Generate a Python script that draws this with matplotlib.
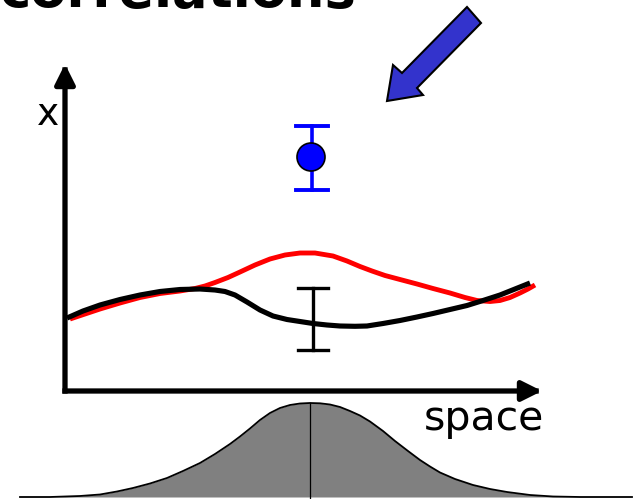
import matplotlib
matplotlib.use("Agg")
import matplotlib.pyplot as plt
from matplotlib.patches import Polygon, Circle

# Sketch coordinates: horizontal "space" position and vertical position (downwards)
red_x = [70, 85, 100, 120, 140, 160, 180, 195, 205, 215, 228, 240, 255, 270, 285, 300, 315,
         333, 347, 360, 372, 385, 400, 417, 433, 450, 465, 477, 490, 500, 510, 520, 528, 535]
red_y = [319, 314, 309, 303, 297.5, 293.5, 291, 288.5, 286, 282.5, 277.5, 272, 265, 259, 255,
         253, 253, 256, 261, 266.5, 271, 275.5, 279.5, 284, 288.5, 293, 297.5, 300.5, 301.5,
         300.5, 297.5, 293, 289, 285]

black_x = [67, 83, 100, 120, 140, 160, 180, 200, 215, 225, 235, 247, 260, 273, 287, 300, 313,
           327, 340, 355, 367, 383, 400, 417, 433, 450, 467, 483, 500, 515, 530]
black_y = [318, 311, 305, 299.5, 295, 291.5, 289.5, 289, 290, 291.5, 295, 302, 310, 316,
           319.5, 321.5, 323.5, 325, 326, 326.3, 326, 323.5, 320.5, 317, 313.5, 309.5, 305.5,
           300.5, 295, 289, 283]

# Black error bar (x, low, high) and the blue measurement with its bar
black_err = (313, 288, 350)
blue_point = (311, 157)
blue_err = (312, 126, 190)

# Kernel profile under the axis
kern_x = [20, 50, 80, 100, 117, 133, 150, 167, 183, 200, 215, 230, 240, 250, 260, 270, 280,
          290, 300, 310, 320, 330, 340, 350, 360, 370, 383, 395, 408, 420, 430, 440, 455,
          473, 490, 507, 530, 553, 580, 632]
kern_y = [497, 497, 496, 494.5, 491.5, 488, 483.5, 478, 471, 463, 454, 444, 436.5, 428.5,
          420, 413, 408, 405, 403.5, 403, 403.3, 404.5, 407, 411, 415.5, 421.5, 431, 441,
          451, 460, 466.5, 472.5, 479, 485, 489, 492, 495, 496.5, 497, 497]
kern_base = 497
kern_peak = (310, 403)

# Pointer arrow outline
arrow_x = [467, 481, 417, 423, 387, 393, 402]
arrow_y = [7, 23, 88, 95, 101, 65, 73]

# Axes of the sketch
origin = (65, 391)
y_tip = (65, 64)
x_tip = (542, 391)

fig = plt.figure(figsize=(6.35, 4.99), dpi=100)
ax = fig.add_axes([0, 0, 1, 1])
ax.set_xlim(0, 635)
ax.set_ylim(499, 0)
ax.axis("off")

# Title (partly above the frame)
ax.text(0, 7, "correlations", fontsize=38, fontweight="bold", ha="left", va="baseline",
        color="black")

# Axes with arrowheads
for tip in (y_tip, x_tip):
    ax.annotate("", xy=tip, xytext=origin,
                arrowprops=dict(arrowstyle="-|>", lw=3.8, color="black",
                                mutation_scale=30, shrinkA=0, shrinkB=0,
                                capstyle="projecting"))
ax.text(48, 125, "x", fontsize=27, ha="center", va="baseline")
ax.text(424, 430, "space", fontsize=29.5, ha="left", va="baseline")

# Curves
ax.plot(red_x, red_y, color="#ff0000", lw=3.5, solid_capstyle="butt", solid_joinstyle="round")
ax.plot(black_x, black_y, color="black", lw=3.7, solid_capstyle="butt", solid_joinstyle="round")

# Black error bar
bx, blo, bhi = black_err
ax.plot([bx, bx], [blo, bhi], color="black", lw=2.4)
ax.plot([bx - 15, bx + 15], [blo, blo], color="black", lw=2.4)
ax.plot([bx - 15, bx + 15], [bhi, bhi], color="black", lw=2.4)

# Blue measurement
ex, elo, ehi = blue_err
ax.plot([ex, ex], [elo, ehi], color="#0000ff", lw=2.6)
ax.plot([ex - 16, ex + 16], [elo, elo], color="#0000ff", lw=2.8)
ax.plot([ex - 16, ex + 16], [ehi, ehi], color="#0000ff", lw=2.8)
ax.add_patch(Circle(blue_point, 14, facecolor="#0000ff", edgecolor="black", lw=1.2, zorder=5))

# Pointer arrow
ax.add_patch(Polygon(list(zip(arrow_x, arrow_y)), closed=True, facecolor="#3333cc",
                     edgecolor="black", lw=1.5, joinstyle="miter"))

# Kernel
ax.fill_between(kern_x, kern_y, kern_base, color="#808080", lw=0)
ax.plot(kern_x, kern_y, color="black", lw=1.3, solid_joinstyle="round")
ax.plot([kern_peak[0], kern_peak[0]], [kern_peak[1], 499], color="black", lw=0.9)

fig.savefig("out.png", dpi=100)
